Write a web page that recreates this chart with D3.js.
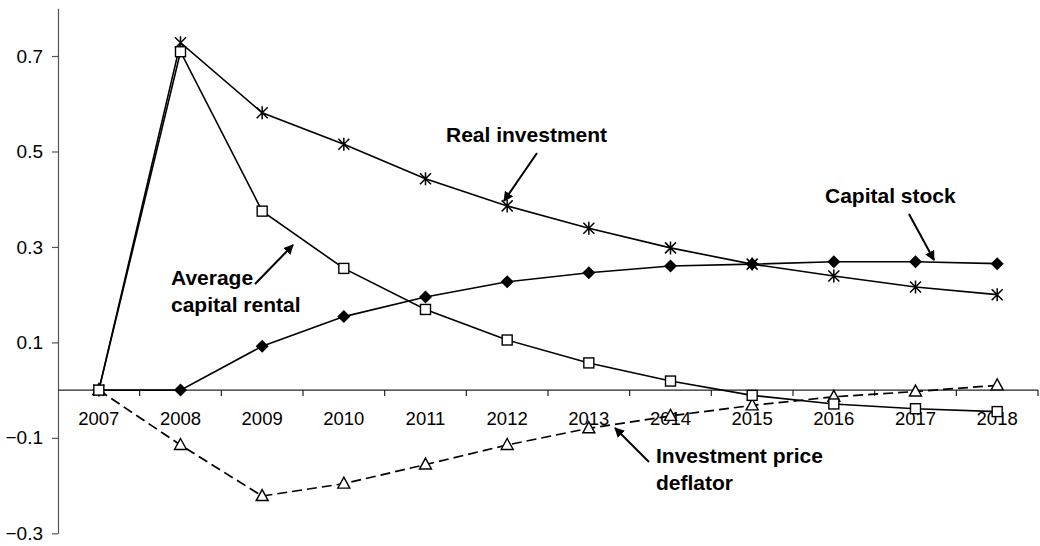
<!DOCTYPE html>
<html>
<head>
<meta charset="utf-8">
<script src="https://cdn.jsdelivr.net/npm/d3@7"></script>
<style>
  html, body { margin: 0; padding: 0; background: #fff; }
  svg { display: block; font-family: "Liberation Sans", Arial, sans-serif; }
</style>
</head>
<body>
<svg id="chart" width="1040" height="546"></svg>
<script>
const years = ["2007","2008","2009","2010","2011","2012","2013","2014","2015","2016","2017","2018"];
const capitalStock = [0, 0, 0.092, 0.154, 0.195, 0.227, 0.246, 0.260, 0.264, 0.269, 0.269, 0.265];
const realInvestment = [0, 0.728, 0.581, 0.515, 0.443, 0.386, 0.339, 0.298, 0.264, 0.239, 0.216, 0.200];
const avgCapitalRental = [0, 0.709, 0.375, 0.255, 0.169, 0.105, 0.057, 0.019, -0.011, -0.029, -0.039, -0.045];
const investmentDeflator = [0, -0.115, -0.222, -0.196, -0.156, -0.115, -0.080, -0.054, -0.032, -0.014, -0.003, 0.010];
const yTicks = [-0.3, -0.1, 0.1, 0.3, 0.5, 0.7];
const yDomain = [-0.3, 0.8];

const svg = d3.select("#chart");
const mLeft = 58, mRight = 1038, mTop = 8.3, mBottom = 533.3;

const x = d3.scaleBand().domain(years).range([mLeft, mRight]).paddingInner(0).paddingOuter(0);
const cx = d => x(d) + x.bandwidth() / 2;
const y = d3.scaleLinear().domain(yDomain).range([mBottom, mTop]);

// Y axis
const yAxis = svg.append("g")
  .attr("transform", `translate(${mLeft},0)`)
  .call(d3.axisLeft(y).tickValues(yTicks).tickSize(6).tickSizeOuter(0).tickFormat(d3.format(".1f")));
yAxis.select(".domain").attr("stroke", "#555").attr("stroke-width", 1.2);
yAxis.selectAll(".tick line").attr("stroke", "#555").attr("stroke-width", 1.2);
yAxis.selectAll(".tick text").attr("font-size", 19).attr("font-family", "Liberation Sans, Arial, sans-serif")
  .attr("fill", "#000").attr("x", -15);

// X axis at zero
const y0 = y(0);
const xg = svg.append("g");
xg.append("line").attr("x1", mLeft).attr("x2", mRight).attr("y1", y0).attr("y2", y0)
  .attr("stroke", "#222").attr("stroke-width", 1.3);
const boundaries = years.map(d => x(d)).concat([x(years[years.length - 1]) + x.bandwidth()]);
xg.selectAll("line.tk").data(boundaries.slice(1)).join("line").attr("class", "tk")
  .attr("x1", d => d).attr("x2", d => d).attr("y1", y0).attr("y2", y0 + 6)
  .attr("stroke", "#222").attr("stroke-width", 1.2);
xg.selectAll("text").data(years).join("text")
  .attr("x", d => cx(d)).attr("y", y0 + 34.5)
  .attr("text-anchor", "middle").attr("font-size", 18.5).attr("fill", "#000")
  .text(d => d);

const line = d3.line().x((d, i) => cx(years[i])).y(d => y(d));

// Lines
svg.append("path").datum(investmentDeflator).attr("d", line)
  .attr("fill", "none").attr("stroke", "#000").attr("stroke-width", 1.7).attr("stroke-dasharray", "10,5");
svg.append("path").datum(capitalStock).attr("d", line)
  .attr("fill", "none").attr("stroke", "#000").attr("stroke-width", 1.6);
svg.append("path").datum(avgCapitalRental).attr("d", line)
  .attr("fill", "none").attr("stroke", "#000").attr("stroke-width", 1.6);
svg.append("path").datum(realInvestment).attr("d", line)
  .attr("fill", "none").attr("stroke", "#000").attr("stroke-width", 1.6);

// Markers
svg.append("g").selectAll("path").data(investmentDeflator).join("path")
  .attr("transform", (d, i) => `translate(${cx(years[i])},${y(d)})`)
  .attr("d", "M0,-6.5 L6,4.5 L-6,4.5 Z")
  .attr("fill", "#fff").attr("stroke", "#000").attr("stroke-width", 1.4);
svg.append("g").selectAll("path").data(capitalStock).join("path")
  .attr("transform", (d, i) => `translate(${cx(years[i])},${y(d)})`)
  .attr("d", "M0,-6.5 L6.5,0 L0,6.5 L-6.5,0 Z")
  .attr("fill", "#000");
svg.append("g").selectAll("path").data(realInvestment).join("path")
  .attr("transform", (d, i) => `translate(${cx(years[i])},${y(d)})`)
  .attr("d", "M0,-6.5 L0,6.5 M-5.5,-5.5 L5.5,5.5 M-5.5,5.5 L5.5,-5.5")
  .attr("fill", "none").attr("stroke", "#000").attr("stroke-width", 1.5);
svg.append("g").selectAll("rect").data(avgCapitalRental).join("rect")
  .attr("x", (d, i) => cx(years[i]) - 5).attr("y", d => y(d) - 5)
  .attr("width", 10).attr("height", 10)
  .attr("fill", "#fff").attr("stroke", "#000").attr("stroke-width", 1.4);

// Annotations
const defs = svg.append("defs");
defs.append("marker").attr("id", "arrow").attr("viewBox", "0 0 10 10")
  .attr("refX", 9).attr("refY", 5).attr("markerWidth", 5).attr("markerHeight", 5)
  .attr("markerUnits", "strokeWidth").attr("orient", "auto")
  .append("path").attr("d", "M0,0 L10,5 L0,10 Z").attr("fill", "#000");

const annotations = [
  { lines: ["Real investment"], x: 446, y: 142, ax1: 537, ay1: 153, ax2: 504, ay2: 201 },
  { lines: ["Capital stock"], x: 825, y: 203, ax1: 909, ay1: 214, ax2: 934, ay2: 260 },
  { lines: ["Average", "capital rental"], x: 171, y: 285, ax1: 255, ay1: 284, ax2: 293, ay2: 245 },
  { lines: ["Investment price", "deflator"], x: 656, y: 463, ax1: 649, ay1: 462, ax2: 615, ay2: 428 }
];
const ann = svg.append("g");
annotations.forEach(a => {
  const t = ann.append("text").attr("x", a.x).attr("y", a.y)
    .attr("font-size", 21).attr("font-weight", "bold").attr("fill", "#000");
  a.lines.forEach((l, i) => t.append("tspan").attr("x", a.x).attr("dy", i === 0 ? 0 : 27).text(l));
  ann.append("line").attr("x1", a.ax1).attr("y1", a.ay1).attr("x2", a.ax2).attr("y2", a.ay2)
    .attr("stroke", "#000").attr("stroke-width", 2).attr("marker-end", "url(#arrow)");
});
</script>
</body>
</html>
